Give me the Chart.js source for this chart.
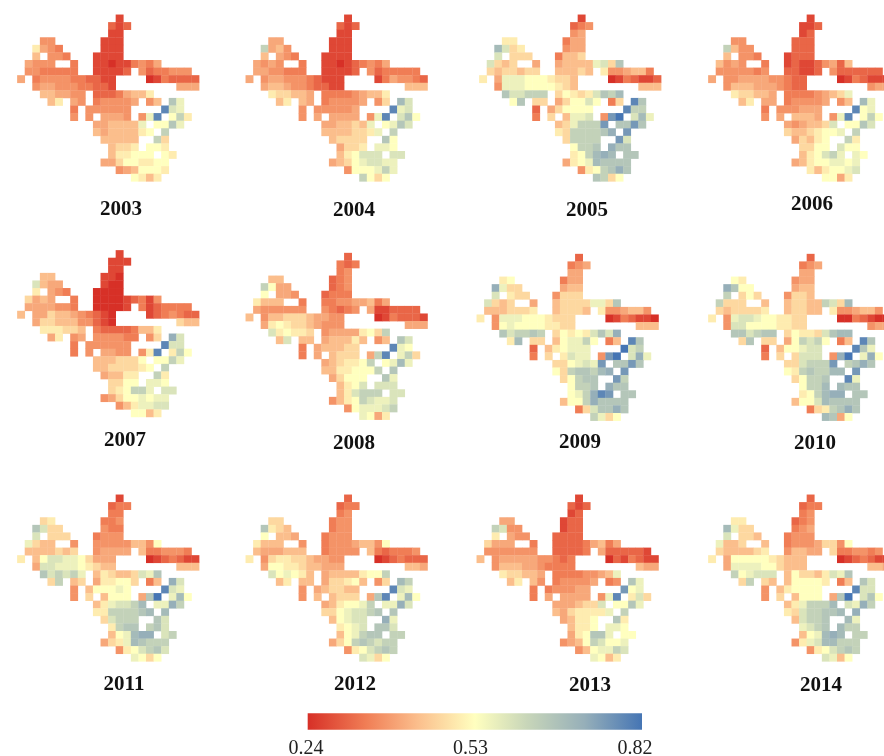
<!DOCTYPE html>
<html><head><meta charset="utf-8">
<script src="https://cdn.jsdelivr.net/npm/chart.js@4"></script>
<style>
html,body{margin:0;padding:0;background:#fff;width:884px;height:756px;overflow:hidden}
canvas{position:absolute;filter:blur(0.5px)}
</style></head><body>
<script>
const years=[2003,2004,2005,2006,2007,2008,2009,2010,2011,2012,2013,2014];
const levelKey="abcdefghijklmnopqrs";
const levelValues=[0.24,0.27,0.31,0.34,0.37,0.40,0.43,0.47,0.50,0.53,0.56,0.59,0.63,0.66,0.69,0.72,0.76,0.79,0.82];
const colorTicks=[0.24,0.53,0.82];
const mask=[
".............#..........","............###.........","............##..........","...##......###..........",
"..####.....###..........","..#.###...####..........",".####..#..#########.....",".#######..#####.#######.",
"#.###########....#######","..###########........###","...######.#########.....","....##.##.######.##.##..",
".......#.######....###..",".......#.#.####.###.###.","..........#######.####..","..........########.#....",
"...........#####..##....","............####.###....","............######.##...","...........#########....",
".............#######....","...............####....."];
const y2003=["b","cbc","bb","ee bbb","ifed bbb","g eed bbbb","feee d bbabbdedf","eeddddd bbbbc ecddeee","f deeeeddccbb abdcccc","effeeeddccb fff","ggffee cccdfggi","gi fe deeeef eg nk","d eeeeee rlk","e e fffe ekr jmi","ffggggk jjnk","gfggggij m","ggggg mh","ghhi jji","giijjj ji","ffhjjiijj","efgjjji","jigi"];
const y2004=["b","cbc","bb","ff bbb","mfge bbb","g fed bbbb","fefe d bbabcdedf","ffeeddd bbbbc ecddddd","f effeeedcbbb bdfeedc","fggfeedccbb ggg","ihhggf ddddefggi","gi gf deeeef eh ol","e eeeeef rkl","e f ffff ekr lnj","ffgghgk jknl","gggghhik m","ghhhh nj","fhhi kkj","gijlll ll","fghjkllkk","ejjjkmk","mjhj"];
const y2005=["b","cde","ef","ii dff","olhi eff","l hhh dggh","lhgh f fggggklhn","hghhghh ggghg ieefggd","i fkkkjjjihhg abdcbbc","ekkkjjjjihg ggg","nllmmm hjihilnmo","jn hh fhjjlj dh rn","c fhjjjj rmm","d h gkkl eqs lok","ghkmmmq nnqn","ihmmmmnp q","hmmmm ql","jmmn pnn","ijmopo nn","fijkonnnn","eijmnpn","nmhj"];
const y2006=["b","bbc","bc","ee ccc","mgee ccc","g eed bccc","gefe d bcbbcefcg","eeeeede ccbbc ecccccc","f eeffffeedcc abdcbbb","egggfffedcc eff","ihhggf ddddefghk","gi ff deeeef eg ok","d eeefff rjk","e f gggf ekr jmj","fefgghl jjnl","hgghijjk m","fhgij mi","hhjj ljj","gijlmk kj","fgijjkkjk","igijjkl","jjfi"];
const y2007=["b","bbb","bb","gg bba","lgff baa","i fed aaaa","hfgf d aaaabcdbe","ffffeed aaaab dbcdddd","g ffhggfedcba bcdedcc","fhhgggeecba hgg","iiihhg dccccdggi","fi ef eeeedd eh pl","d eeeeee rll","d e ffee eir imj","ggghhhj jjmk","gghhhhij m","fggii mi","hhjj kkj","hijmmk ll","efhjjkjkk","egikkll","jjgi"];
const y2008=["c","dcd","de","gg cde","mjff cde","j ffe cddd","iggg d ddeeffgdf","feeeeee edcde fbbcccc","g egghhhgffee abdcccb","fijihhgfeee fff","lijiih effffijhm","gl gg fgggig eg nl","d fggghh rkj","d f ghhh fmr kmh","fghiijm jkok","ggiijjjm n","fhjjj nk","gijl lll","gilmmm ll","egijmlkkl","ejkkklm","kjfi"];
const y2009=["c","def","ff","ij dff","pkhh fgg","l ihh ehhh","lhgh f ghhhhkkhn","ggghhhi ghhhg ieefgge","i ekkkjjjihhh abdcbba","ejkjjjjiihh ggg","nlmmnm hjijilnlp","io hh gjkkmj dg rn","c gijkkk slm","d h ilkk eqs lpk","hhjklkq nnqn","jhmnnmop q","hjmnn qm","jmmn pnn","jkmprq nn","gjjmpnnnn","dhlnnpn","mkhj"];
const y2010=["c","def","ff","ji eff","pnjj fgg","m hjh ehhg","mhhh g ghhggmlho","hghhhhi ghhgg ieefgge","i ekllkjjiihh aadcbaa","elljjjjiihh eff","nnlmnn hjiihlnoo","hn hh fjmlmj dg rn","c gjjkll rnk","d h hlll eps kpj","hhlmmmq mnpn","jimnmmoo q","hjmmn rk","jmmo onn","ijmopp nn","gjjlonnnn","dhimnpn","onfj"];
const y2011=["b","cdd","dd","hi dde","nlhh edd","l hhh deee","khgg e eeeeeggej","gggghgh effff gddeeed","i gjllkkjhfff abcdcbb","fllkkkjihgg ggg","nlmlmk gihgghlkn","hm gh fiijjh dg pl","e gjjjkj rlk","e h gjjj fns koj","gikllmo kkpm","iimmmmno o","hlmmm nl","imnn mnl","gjkopp lm","fhikonmmm","eijlmnl","kjhj"];
const y2012=["c","cdd","de","hh dee","nihg dee","j ggf deee","iggg e deeefggej","gfffggg deeee gdcddde","i ehiihhgffee abcdccc","fjjiihggfff ggf","ljkjig fggggijjm","gi gg fhhijg eh om","e fghhgg rlk","e g ghhh fnr koj","fgijjkm kkpl","hhjkllmn n","gjkll pk","ijkl nnl","gjkmnn mm","fhjmnmlmm","eijlmnm","lkhj"];
const y2013=["b","cbc","bc","ff bcc","mlee bcc","i fee cccc","hfff d ccccdfgdf","eeeeeee ccccd fcccccb","g efffffeedcd acbdcbb","egggffedddd gff","ihhggf ddddeefgk","gi ge deeeef de nk","d deeeff qjk","d f ffff ekr ilh","fffghhl jjnk","gfhiiiik m","fgiij ni","giij kkj","fijnnk jj","efgjmljjk","egjkkml","kjgi"];
const y2014=["c","cdd","de","ii cde","okhh def","l hhg deee","kggh g deeefhhej","hgggghi eggff hddeede","i fjjjjjihggg abcdcbb","fkkkkjjhggg ggf","mjklll gjhhgilkn","hm hg gjjjji dg nl","e gijjjj rll","e h gjjj fns lnj","gikmmmo lkpm","ihlmmnno p","glmmn ok","klmn omm","gjkopo mm","eikloommm","eijlmnm","lkgj"];
const yearRows=[y2003,y2004,y2005,y2006,y2007,y2008,y2009,y2010,y2011,y2012,y2013,y2014];

// layout of each small panel in the page: grid left, grid top, year label centre x / y
const gridLeft=[17.3,245.7,479.3,708.3,17.3,245.7,476.7,708.3,17.3,245.7,476.7,708.3];
const gridTop=[14.7,14.7,14.7,14.7,250.3,253,254,254,494.7,494.7,494.7,494.7];
const labelX=[121,353.7,587,812,125,354,580,815,124,355,590,821];
const labelY=[209,210,210,204,440,442.7,442,442.7,684,684,685,685];
const cell=7.58, serif='"Liberation Serif","Times New Roman",serif';

const stops=[[0.24,215,48,39],[0.34,240,125,85],[0.43,251,190,140],[0.53,255,255,191],[0.62,200,214,185],[0.72,150,175,185],[0.82,69,117,180]];
function colorOf(v){
  for(let i=1;i<stops.length;i++){ if(v<=stops[i][0]){
    const a=stops[i-1],b=stops[i],t=(v-a[0])/(b[0]-a[0]);
    return `rgb(${[1,2,3].map(k=>Math.round(a[k]+(b[k]-a[k])*t)).join(',')})`; } }
  return 'rgb(69,117,180)';
}
function cellsOf(rows){
  const pts=[];
  rows.forEach((s,r)=>{ const t=s.replace(/ /g,''); let n=0;
    for(let c=0;c<24;c++){ if(mask[r][c]==='#'){ const ch=t[n++]; if(ch!==undefined) pts.push({x:c+.5,y:r+.5,v:levelValues[levelKey.indexOf(ch)]}); } }
    if(n!==t.length) console.warn('row length',r,s);
  });
  return pts;
}
years.forEach((yr,i)=>{
  const half=Math.ceil(Math.max(labelX[i]-gridLeft[i],gridLeft[i]+24*cell-labelX[i]))+2;
  const left=Math.round(labelX[i])-half, W=half*2;
  const top=Math.floor(gridTop[i])-2;
  const gridBottom=gridTop[i]+22*cell+2;
  const pad=Math.max(0,labelY[i]-gridBottom-12.6);
  const H=Math.ceil(gridBottom-top+pad+25.2);
  const A=H-pad-25.2;
  const cv=document.createElement('canvas');
  cv.width=W;cv.height=H;cv.style.left=left+'px';cv.style.top=top+'px';cv.style.width=W+'px';cv.style.height=H+'px';
  document.body.appendChild(cv);
  const pts=cellsOf(yearRows[i]);
  const xMin=-(gridLeft[i]-left)/cell, yMin=-(gridTop[i]-top)/cell;
  new Chart(cv,{type:'scatter',
    data:{datasets:[{label:String(yr),data:pts,pointStyle:'rect',pointRadius:5.6,pointBorderWidth:0,
      pointBackgroundColor:pts.map(p=>colorOf(p.v)),clip:false}]},
    options:{responsive:false,animation:false,events:[],layout:{padding:0,autoPadding:false},
      scales:{x:{type:'linear',display:false,min:xMin,max:xMin+W/cell},
              y:{type:'linear',display:false,reverse:true,min:yMin,max:yMin+A/cell}},
      plugins:{legend:{display:false},tooltip:{enabled:false},
        title:{display:true,text:String(yr),position:'bottom',color:'#111',padding:{top:pad,bottom:0},
          font:{family:serif,size:21,weight:'bold',lineHeight:1.2}}}}});
});
// colour bar
const barCv=document.createElement('canvas');
barCv.width=440;barCv.height=54;barCv.style.cssText='left:250px;top:708px;width:440px;height:54px';
document.body.appendChild(barCv);
new Chart(barCv,{type:'bar',
  data:{labels:['index'],datasets:[{data:[[colorTicks[0],colorTicks[2]]],xAxisID:'xBar',barThickness:16,borderWidth:0,
    backgroundColor(c){const a=c.chart.chartArea; if(!a) return '#888'; const s=c.chart.scales.xBar;
      const g=c.chart.ctx.createLinearGradient(s.getPixelForValue(0.24),0,s.getPixelForValue(0.82),0);
      stops.forEach(p=>g.addColorStop((p[0]-0.24)/0.58,`rgb(${p[1]},${p[2]},${p[3]})`)); return g;}}]},
  options:{indexAxis:'y',responsive:false,animation:false,events:[],
    layout:{padding:{left:56,right:48,top:0,bottom:0}},
    scales:{
      y:{display:false},
      xBar:{type:'linear',axis:'x',position:'top',display:false,min:0.2365,max:0.82},
      x:{type:'linear',position:'bottom',min:0.24,max:0.8323,grid:{display:false,drawTicks:false},border:{display:false},
        afterBuildTicks(ax){ax.ticks=colorTicks.map(v=>({value:v}));},
        ticks:{padding:2,autoSkip:false,maxRotation:0,color:'#222',font:{family:serif,size:20},
          callback:v=>Number(v).toFixed(2)}}},
    plugins:{legend:{display:false},tooltip:{enabled:false}}}});
</script>
</body></html>
